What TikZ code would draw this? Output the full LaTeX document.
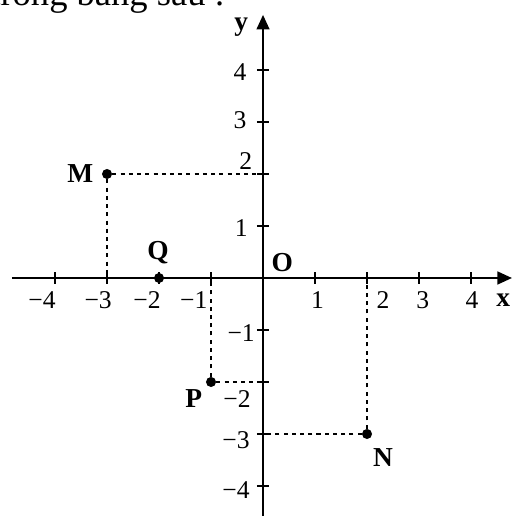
\documentclass[tikz,border=0pt]{standalone}
\usepackage{fontspec}
\setmainfont{Liberation Serif}
\usetikzlibrary{arrows.meta,positioning}

\tikzset{
  axis/.style={line width=1.2pt, -{Triangle[length=8pt,width=7pt]}},
  guide/.style={line width=1.6pt, dash pattern=on 2.2pt off 2.3pt},
  pt/.style={circle, fill, inner sep=0pt, minimum size=5.5pt},
  lbl/.style={font=\fontsize{15}{17}\selectfont\bfseries},
  num/.style={font=\fontsize{14}{16}\selectfont},
}

\begin{document}
\begin{tikzpicture}
  \useasboundingbox (-5.058,-4.577) rectangle (4.788,5.346);

  % text cut off at the top
  \node[anchor=base west, inner sep=0pt, font=\fontsize{20}{22}\selectfont] (txt) at (-5.25,5.24) {trong bảng sau :};

  % Points
  \node[pt] (M) at (-3,2) {};
  \node[pt] (N) at (2,-3) {};
  \node[pt] (P) at (-1,-2) {};
  \node[pt] (Q) at (-2,0) {};
  \coordinate (Mx) at (-3,0);
  \coordinate (My) at (0,2);
  \coordinate (Nx) at (2,0);
  \coordinate (Ny) at (0,-3);
  \coordinate (Px) at (-1,0);
  \coordinate (Py) at (0,-2);

  % Dotted guides
  \draw[guide] (M) -- (My);
  \draw[guide] (M) -- (Mx);
  \draw[guide] (N) -- (Nx);
  \draw[guide] (N) -- (Ny);
  \draw[guide] (P) -- (Px);
  \draw[guide] (P) -- (Py);

  % Axes
  \coordinate (xl) at (-4.83,0);
  \coordinate (xr) at (4.788,0);
  \coordinate (yb) at (0,-4.6);
  \coordinate (yt) at (0,5.06);
  \draw[axis] (xl) -- (xr);
  \draw[axis] (yb) -- (yt);
  \node[lbl] (xlab) at (4.62,-0.42) {x};
  \node[lbl] (ylab) at (-0.42,4.82) {y};

  % Ticks
  \foreach \i in {-4,...,-1,1,2,3,4} {
    \draw[line width=1.2pt] (\i,-0.11) -- (\i,0.11);
    \draw[line width=1.2pt] (-0.12,\i) -- (0.12,\i);
  }

  % Numbers on the axes
  \node[num] (xm4) at (-4.25,-0.42) {−4};
  \node[num] (xm3) at (-3.17,-0.42) {−3};
  \node[num] (xm2) at (-2.23,-0.42) {−2};
  \node[num] (xm1) at (-1.33,-0.42) {−1};
  \node[num] (x1) at (1.05,-0.42) {1};
  \node[num] (x2) at (2.31,-0.42) {2};
  \node[num] (x3) at (3.07,-0.42) {3};
  \node[num] (x4) at (4.02,-0.42) {4};
  \node[num] (y4) at (-0.44,3.96) {4};
  \node[num] (y3) at (-0.44,3.04) {3};
  \node[num] (y2) at (-0.33,2.25) {2};
  \node[num] (y1) at (-0.42,0.96) {1};
  \node[num] (ym1) at (-0.42,-1.06) {−1};
  \node[num] (ym2) at (-0.5,-2.33) {−2};
  \node[num] (ym3) at (-0.52,-3.12) {−3};
  \node[num] (ym4) at (-0.52,-4.08) {−4};

  % Point names
  \node[lbl] (Olab) at (0.37,0.29) {O};
  \node[lbl, left=1pt of M] (Mlab) {M};
  \node[lbl] (Qlab) at (-2.02,0.48) {Q};
  \node[lbl] (Plab) at (-1.33,-2.31) {P};
  \node[lbl] (Nlab) at (2.31,-3.46) {N};
\end{tikzpicture}
\end{document}
